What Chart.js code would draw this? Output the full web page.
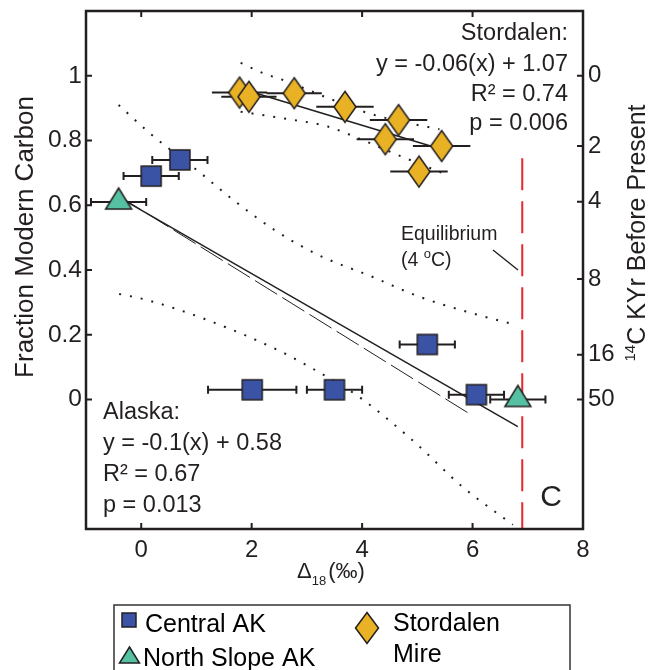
<!DOCTYPE html>
<html>
<head>
<meta charset="utf-8">
<script src="https://cdn.jsdelivr.net/npm/chart.js@4.4.1/dist/chart.umd.min.js"></script>
<style>
  html, body { margin: 0; padding: 0; background: #fff; }
</style>
</head>
<body>
<canvas id="chart" width="648" height="670"></canvas>
<script>
const INK = '#231f20';
const FONT = '"Liberation Sans", Arial, sans-serif';

// points (x = Δ18 ‰, y = fraction modern carbon)
const centralX = [0.18, 0.70, 2.01, 3.50, 5.18, 6.07];
const centralY = [0.69, 0.74, 0.03, 0.03, 0.17, 0.015];
const centralErr = [0.5, 0.5, 0.8, 0.5, 0.5, 0.5];

const northX = [-0.41, 6.82];
const northY = [0.61, 0.0];
const northErr = [0.5, 0.5];

const stordX = [1.78, 1.95, 2.77, 3.69, 4.66, 4.42, 5.44, 5.03];
const stordY = [0.948, 0.935, 0.946, 0.904, 0.863, 0.804, 0.783, 0.704];
const stordErr = [0.5, 0.5, 0.5, 0.52, 0.52, 0.52, 0.52, 0.52];

// regression lines and confidence bands
const akFitX = [-0.41, 6.82];
const akFitY = [0.625, -0.084];
const akFit2X = [-0.4, 6.0];
const akFit2Y = [0.628, -0.05];
const akUpX = [-0.41, 0.16, 1.07, 1.67, 2.41, 3.2, 4.17, 5.03, 5.88, 6.79];
const akUpY = [0.91, 0.822, 0.70, 0.616, 0.524, 0.447, 0.38, 0.318, 0.272, 0.23];
const akLoX = [-0.4, 0.09, 1.19, 2.53, 3.2, 3.93, 4.9, 5.82, 6.73];
const akLoY = [0.326, 0.308, 0.246, 0.148, 0.086, 0.01, -0.124, -0.27, -0.387];

const stFitX = [1.9, 5.3];
const stFitY = [0.955, 0.78];
const stUpX = [1.8, 2.22, 2.6, 3.4, 4.1, 4.8, 5.4];
const stUpY = [1.04, 1.007, 0.985, 0.93, 0.885, 0.855, 0.835];
const stLoX = [1.8, 2.59, 3.38, 3.93, 4.72, 5.45];
const stLoY = [0.889, 0.868, 0.843, 0.807, 0.75, 0.70];

const eqX = [6.9, 6.9];
const eqY = [0.745, -0.4];

// right axis: radiocarbon age (kyr) at fraction-modern positions
const c14Fmc = [1.0, 0.783, 0.611, 0.372, 0.138, 0.0, -0.2];
const c14Labels = ['0', '2', '4', '8', '16', '50', null];

const pts = (xs, ys) => xs.map((x, i) => ({ x: x, y: ys[i] }));

function shape(ctx, type, cx, cy, w, h, up) {
  ctx.beginPath();
  if (type === 'square') {
    ctx.rect(cx - w / 2, cy - h / 2, w, h);
  } else if (type === 'triangle') {
    ctx.moveTo(cx, cy - up);
    ctx.lineTo(cx + w / 2, cy + h - up);
    ctx.lineTo(cx - w / 2, cy + h - up);
    ctx.closePath();
  } else {
    ctx.moveTo(cx, cy - h / 2);
    ctx.lineTo(cx + w / 2, cy);
    ctx.lineTo(cx, cy + h / 2);
    ctx.lineTo(cx - w / 2, cy);
    ctx.closePath();
  }
}

function drawShape(ctx, type, cx, cy, w, h, fill, up) {
  shape(ctx, type, cx, cy, w, h, up);
  ctx.fillStyle = fill;
  ctx.fill();
  ctx.lineWidth = 1.5;
  ctx.strokeStyle = INK;
  ctx.stroke();
}

function marker(type, w, h, fill, up) {
  const c = document.createElement('canvas');
  const half = Math.ceil(Math.max(w, h)) + 2;
  c.width = half * 2;
  c.height = half * 2;
  drawShape(c.getContext('2d'), type, half, half, w, h, fill, up);
  return c;
}

const BLUE = '#3a53a4';
const TEAL = '#55c1a2';
const GOLD = '#e9b124';
const RED = '#e8262d';

const squareImg = marker('square', 20, 20, BLUE);
const triImg = marker('triangle', 26, 21, TEAL, 14);
const diaImg = marker('diamond', 22, 31, GOLD);

// horizontal error bars, drawn under the markers
const errorBars = {
  id: 'errorBars',
  beforeDatasetsDraw(chart) {
    const { ctx, scales: { x, y } } = chart;
    const sets = [
      [centralX, centralY, centralErr, true],
      [northX, northY, northErr, true],
      [stordX, stordY, stordErr, false]
    ];
    ctx.save();
    ctx.strokeStyle = INK;
    ctx.lineWidth = 2;
    sets.forEach(([xs, ys, es, caps]) => {
      xs.forEach((v, i) => {
        const py = y.getPixelForValue(ys[i]);
        const x0 = x.getPixelForValue(v - es[i]);
        const x1 = x.getPixelForValue(v + es[i]);
        ctx.beginPath();
        ctx.moveTo(x0, py);
        ctx.lineTo(x1, py);
        if (caps) {
          ctx.moveTo(x0, py - 4); ctx.lineTo(x0, py + 4);
          ctx.moveTo(x1, py - 4); ctx.lineTo(x1, py + 4);
        }
        ctx.stroke();
      });
    });
    ctx.restore();
  }
};

// box round the plot with inward ticks
const frame = {
  id: 'frame',
  afterDatasetsDraw(chart) {
    const { ctx, chartArea: a, scales: { x, y, y2 } } = chart;
    const t = 6;
    ctx.save();
    ctx.strokeStyle = INK;
    ctx.lineWidth = 2;
    ctx.beginPath();
    x.ticks.forEach(tk => {
      const px = x.getPixelForValue(tk.value);
      ctx.moveTo(px, a.bottom); ctx.lineTo(px, a.bottom - t);
      ctx.moveTo(px, a.top); ctx.lineTo(px, a.top + t);
    });
    y.ticks.forEach(tk => {
      const py = y.getPixelForValue(tk.value);
      ctx.moveTo(a.left, py); ctx.lineTo(a.left + t, py);
    });
    y2.ticks.forEach(tk => {
      const py = y2.getPixelForValue(tk.value);
      ctx.moveTo(a.right, py); ctx.lineTo(a.right - t, py);
    });
    ctx.stroke();
    ctx.lineWidth = 2.5;
    ctx.strokeRect(a.left, a.top, a.right - a.left, a.bottom - a.top);
    ctx.restore();
  }
};

// titles, equations, labels and legend
const texts = {
  id: 'texts',
  afterDraw(chart) {
    const ctx = chart.ctx;
    ctx.save();
    ctx.fillStyle = INK;
    ctx.textBaseline = 'alphabetic';

    // left axis title
    ctx.save();
    ctx.translate(33, 237);
    ctx.rotate(-Math.PI / 2);
    ctx.textAlign = 'center';
    ctx.font = '26px ' + FONT;
    ctx.fillText('Fraction Modern Carbon', 0, 0);
    ctx.restore();

    // right axis title
    ctx.save();
    ctx.translate(645, 233);
    ctx.rotate(-Math.PI / 2);
    ctx.textAlign = 'left';
    ctx.font = '15px ' + FONT;
    const wSup = ctx.measureText('14').width;
    ctx.font = '25px ' + FONT;
    const wMain = ctx.measureText('C KYr Before Present').width;
    const x0 = -(wSup + wMain) / 2;
    ctx.font = '15px ' + FONT;
    ctx.fillText('14', x0, -10);
    ctx.font = '25px ' + FONT;
    ctx.fillText('C KYr Before Present', x0 + wSup, 0);
    ctx.restore();

    // x axis title
    ctx.textAlign = 'left';
    let tx = 297;
    ctx.font = '22px ' + FONT;
    ctx.fillText('\u0394', tx, 578);
    tx += ctx.measureText('\u0394').width;
    ctx.font = '13px ' + FONT;
    ctx.fillText('18', tx, 585);
    tx += ctx.measureText('18').width + 2;
    ctx.font = '22px ' + FONT;
    ctx.fillText('(\u2030)', tx, 578);

    // Stordalen equation
    ctx.textAlign = 'right';
    ctx.font = '23.5px ' + FONT;
    ctx.fillText('Stordalen:', 568, 40);
    ctx.fillText('y = -0.06(x) + 1.07', 568, 71);
    ctx.fillText('R\u00b2 = 0.74', 568, 101);
    ctx.fillText('p = 0.006', 568, 130);

    // Alaska equation
    ctx.textAlign = 'left';
    ctx.fillText('Alaska:', 103, 419);
    ctx.fillText('y = -0.1(x) + 0.58', 103, 450);
    ctx.fillText('R\u00b2 = 0.67', 103, 481);
    ctx.fillText('p = 0.013', 103, 512);

    // equilibrium label
    ctx.font = '19.5px ' + FONT;
    ctx.fillText('Equilibrium', 401, 240);
    ctx.fillText('(4', 401, 266);
    const w4 = ctx.measureText('(4 ').width;
    ctx.font = '13px ' + FONT;
    ctx.fillText('o', 401 + w4, 258);
    const wo = ctx.measureText('o').width;
    ctx.font = '19.5px ' + FONT;
    ctx.fillText('C)', 401 + w4 + wo, 266);
    ctx.strokeStyle = INK;
    ctx.lineWidth = 1.5;
    ctx.beginPath();
    ctx.moveTo(493, 250);
    ctx.lineTo(518, 270);
    ctx.stroke();

    // panel letter
    ctx.textAlign = 'center';
    ctx.font = '30px ' + FONT;
    ctx.fillText('C', 551, 506);

    // legend
    ctx.lineWidth = 1.5;
    ctx.strokeStyle = '#333';
    ctx.strokeRect(114, 605, 456, 80);
    drawShape(ctx, 'square', 129, 620, 14, 14, BLUE);
    drawShape(ctx, 'triangle', 129.5, 656, 20, 16, TEAL, 9);
    drawShape(ctx, 'diamond', 367, 628, 23, 31, GOLD);
    ctx.fillStyle = '#000';
    ctx.textAlign = 'left';
    ctx.font = '25px ' + FONT;
    ctx.fillText('Central AK', 145, 632);
    ctx.fillText('North Slope AK', 143, 666);
    ctx.fillText('Stordalen', 393, 631);
    ctx.fillText('Mire', 393, 662);
    ctx.restore();
  }
};

const lineSet = (xs, ys, extra) => Object.assign({
  data: pts(xs, ys),
  showLine: true,
  pointRadius: 0,
  borderColor: INK,
  borderWidth: 1.5,
  fill: false
}, extra);

const dotted = { borderDash: [2, 9], borderWidth: 2, cubicInterpolationMode: 'monotone' };

// fixed axis sizes, no extra label padding
const fixSize = (w, h) => s => {
  if (w) s.width = w;
  if (h) s.height = h;
  s.paddingTop = 0; s.paddingBottom = 0; s.paddingLeft = 0; s.paddingRight = 0;
};

new Chart(document.getElementById('chart').getContext('2d'), {
  type: 'scatter',
  data: {
    datasets: [
      { label: 'Central AK', data: pts(centralX, centralY), pointStyle: squareImg, pointRadius: 10 },
      { label: 'North Slope AK', data: pts(northX, northY), pointStyle: triImg, pointRadius: 10 },
      { label: 'Stordalen Mire', data: pts(stordX, stordY), pointStyle: diaImg, pointRadius: 12 },
      lineSet(akFitX, akFitY, {}),
      lineSet(akFit2X, akFit2Y, { borderWidth: 1, borderDash: [26, 6] }),
      lineSet(akUpX, akUpY, dotted),
      lineSet(akLoX, akLoY, dotted),
      lineSet(stFitX, stFitY, {}),
      lineSet(stUpX, stUpY, dotted),
      lineSet(stLoX, stLoY, dotted),
      lineSet(eqX, eqY, { borderColor: RED, borderWidth: 2, borderDash: [32, 11] })
    ]
  },
  options: {
    responsive: false,
    animation: false,
    events: [],
    layout: { autoPadding: false, padding: { top: 11, left: 0, right: 0, bottom: 0 } },
    plugins: {
      legend: { display: false },
      tooltip: { enabled: false }
    },
    scales: {
      x: {
        type: 'linear',
        min: -1,
        max: 8,
        grid: { display: false, drawTicks: false },
        border: { display: false },
        ticks: {
          stepSize: 1,
          autoSkip: false,
          maxRotation: 0,
          padding: 7,
          color: INK,
          font: { family: FONT, size: 24 },
          callback: v => (v >= 0 && v % 2 === 0) ? String(v) : null
        },
        afterFit: fixSize(0, 141)
      },
      y: {
        type: 'linear',
        position: 'left',
        min: -0.4,
        max: 1.2,
        grid: { display: false, drawTicks: false },
        border: { display: false },
        ticks: {
          stepSize: 0.2,
          autoSkip: false,
          padding: 4,
          color: INK,
          font: { family: FONT, size: 24.5 },
          callback: v => {
            const r = Math.round(v * 10) / 10;
            if (r < 0 || r > 1) return null;
            return r === 0 || r === 1 ? String(r) : r.toFixed(1);
          }
        },
        afterFit: fixSize(86, 0)
      },
      y2: {
        type: 'linear',
        position: 'right',
        min: -0.4,
        max: 1.2,
        grid: { display: false, drawTicks: false },
        border: { display: false },
        afterBuildTicks: s => { s.ticks = c14Fmc.map(v => ({ value: v })); },
        ticks: {
          autoSkip: false,
          padding: 5,
          color: INK,
          font: { family: FONT, size: 24 },
          callback: (v, i) => c14Labels[i]
        },
        afterFit: fixSize(65, 0)
      }
    }
  },
  plugins: [errorBars, frame, texts]
});
</script>
</body>
</html>
